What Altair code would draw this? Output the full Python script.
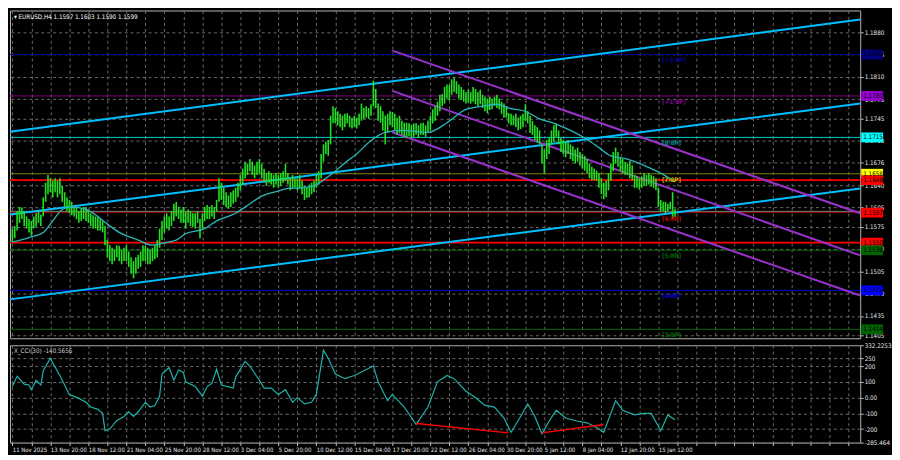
import altair as alt
import pandas as pd

# ---------------- data ----------------
# H4 bars, index 0 = 11 Nov 2025 00:00
high = [
    1.1572, 1.1576, 1.1599, 1.1606, 1.1605, 1.1599, 1.1591, 1.1587, 1.1584, 1.1591,
    1.1596, 1.1599, 1.1594, 1.1621, 1.1644, 1.1656, 1.1651, 1.1647, 1.1651, 1.1647,
    1.1651, 1.1639, 1.1629, 1.1621, 1.1617, 1.1614, 1.1606, 1.1606, 1.1599, 1.1603,
    1.1606, 1.1606, 1.1602, 1.1596, 1.1593, 1.1591, 1.1591, 1.1587, 1.1584, 1.1576,
    1.1554, 1.1546, 1.1542, 1.1539, 1.1546, 1.1545, 1.1539, 1.1542, 1.1546, 1.1536,
    1.1527, 1.1521, 1.1527, 1.1531, 1.1536, 1.1546, 1.1545, 1.1542, 1.1539, 1.1542,
    1.1546, 1.1554, 1.1572, 1.1584, 1.1591, 1.1596, 1.1591, 1.1599, 1.1611, 1.1614,
    1.1606, 1.1602, 1.1606, 1.1599, 1.1602, 1.1599, 1.1596, 1.1596, 1.1599, 1.1587,
    1.1596, 1.1606, 1.1609, 1.1606, 1.1609, 1.1606, 1.1617, 1.1651, 1.1644, 1.1636,
    1.1629, 1.1624, 1.1629, 1.1632, 1.1636, 1.1644, 1.1656, 1.1666, 1.1677, 1.1674,
    1.1681, 1.1677, 1.1671, 1.1677, 1.1681, 1.1674, 1.1666, 1.1659, 1.1662, 1.1659,
    1.1656, 1.1659, 1.1656, 1.1659, 1.1662, 1.1674, 1.1659, 1.1651, 1.1656, 1.1651,
    1.1651, 1.1656, 1.1647, 1.1639, 1.1636, 1.1641, 1.1644, 1.1647, 1.1656, 1.1662,
    1.1689, 1.1704, 1.1708, 1.1711, 1.1749, 1.1764, 1.1761, 1.1756, 1.1752, 1.1749,
    1.1752, 1.1753, 1.1749, 1.1746, 1.1749, 1.1746, 1.1752, 1.1768, 1.1761, 1.1764,
    1.1761, 1.1767, 1.1804, 1.1791, 1.1768, 1.1764, 1.1756, 1.1749, 1.1752, 1.1756,
    1.1755, 1.1752, 1.1746, 1.1749, 1.1741, 1.1738, 1.1738, 1.1737, 1.1734, 1.1737,
    1.1737, 1.1734, 1.1737, 1.1738, 1.1734, 1.1741, 1.1749, 1.1759, 1.1764, 1.1771,
    1.1782, 1.1783, 1.1794, 1.1798, 1.1797, 1.1806, 1.1809, 1.1803, 1.1798, 1.1794,
    1.1790, 1.1786, 1.1790, 1.1786, 1.1794, 1.1791, 1.1786, 1.1790, 1.1782, 1.1779,
    1.1776, 1.1779, 1.1776, 1.1779, 1.1782, 1.1776, 1.1771, 1.1768, 1.1764, 1.1753,
    1.1752, 1.1749, 1.1752, 1.1746, 1.1749, 1.1752, 1.1767, 1.1756, 1.1749, 1.1741,
    1.1734, 1.1731, 1.1726, 1.1704, 1.1696, 1.1711, 1.1714, 1.1726, 1.1734, 1.1737,
    1.1726, 1.1714, 1.1711, 1.1707, 1.1711, 1.1704, 1.1701, 1.1696, 1.1699, 1.1692,
    1.1689, 1.1686, 1.1681, 1.1674, 1.1669, 1.1666, 1.1663, 1.1659, 1.1651, 1.1644,
    1.1647, 1.1659, 1.1674, 1.1692, 1.1699, 1.1692, 1.1684, 1.1681, 1.1677, 1.1674,
    1.1678, 1.1671, 1.1656, 1.1654, 1.1651, 1.1654, 1.1659, 1.1656, 1.1659, 1.1656,
    1.1654, 1.1651, 1.1636, 1.1617, 1.1614, 1.1614, 1.1611, 1.1614, 1.1629, 1.1603,
]
low = [
    1.1551, 1.1557, 1.1569, 1.1581, 1.1587, 1.1576, 1.1572, 1.1566, 1.1561, 1.1572,
    1.1575, 1.1581, 1.1576, 1.1591, 1.1614, 1.1626, 1.1629, 1.1621, 1.1629, 1.1621,
    1.1626, 1.1614, 1.1606, 1.1599, 1.1596, 1.1593, 1.1591, 1.1587, 1.1581, 1.1584,
    1.1587, 1.1584, 1.1581, 1.1576, 1.1572, 1.1572, 1.1569, 1.1569, 1.1566, 1.1546,
    1.1527, 1.1521, 1.1516, 1.1521, 1.1527, 1.1521, 1.1516, 1.1521, 1.1521, 1.1512,
    1.1501, 1.1494, 1.1501, 1.1509, 1.1512, 1.1521, 1.1521, 1.1516, 1.1516, 1.1521,
    1.1524, 1.1527, 1.1542, 1.1554, 1.1566, 1.1572, 1.1569, 1.1576, 1.1584, 1.1591,
    1.1587, 1.1581, 1.1581, 1.1572, 1.1581, 1.1576, 1.1575, 1.1572, 1.1581, 1.1557,
    1.1572, 1.1584, 1.1587, 1.1587, 1.1591, 1.1587, 1.1599, 1.1614, 1.1617, 1.1609,
    1.1606, 1.1603, 1.1606, 1.1611, 1.1614, 1.1621, 1.1632, 1.1641, 1.1651, 1.1656,
    1.1662, 1.1656, 1.1651, 1.1656, 1.1659, 1.1651, 1.1644, 1.1639, 1.1644, 1.1641,
    1.1636, 1.1641, 1.1636, 1.1639, 1.1644, 1.1647, 1.1641, 1.1632, 1.1636, 1.1636,
    1.1632, 1.1635, 1.1626, 1.1617, 1.1620, 1.1621, 1.1626, 1.1629, 1.1636, 1.1641,
    1.1651, 1.1677, 1.1689, 1.1686, 1.1704, 1.1737, 1.1737, 1.1734, 1.1731, 1.1726,
    1.1731, 1.1737, 1.1731, 1.1729, 1.1731, 1.1729, 1.1734, 1.1741, 1.1744, 1.1746,
    1.1744, 1.1749, 1.1764, 1.1761, 1.1741, 1.1738, 1.1726, 1.1704, 1.1722, 1.1734,
    1.1731, 1.1726, 1.1719, 1.1722, 1.1719, 1.1716, 1.1714, 1.1717, 1.1714, 1.1716,
    1.1719, 1.1714, 1.1719, 1.1719, 1.1716, 1.1722, 1.1726, 1.1737, 1.1741, 1.1749,
    1.1756, 1.1764, 1.1768, 1.1776, 1.1773, 1.1782, 1.1786, 1.1783, 1.1776, 1.1774,
    1.1771, 1.1768, 1.1770, 1.1768, 1.1771, 1.1767, 1.1764, 1.1767, 1.1761, 1.1756,
    1.1753, 1.1758, 1.1759, 1.1764, 1.1761, 1.1759, 1.1752, 1.1746, 1.1746, 1.1737,
    1.1734, 1.1734, 1.1731, 1.1726, 1.1728, 1.1731, 1.1741, 1.1737, 1.1722, 1.1719,
    1.1711, 1.1707, 1.1704, 1.1674, 1.1659, 1.1681, 1.1689, 1.1704, 1.1708, 1.1716,
    1.1704, 1.1692, 1.1689, 1.1684, 1.1689, 1.1681, 1.1678, 1.1674, 1.1677, 1.1671,
    1.1666, 1.1663, 1.1659, 1.1651, 1.1648, 1.1648, 1.1647, 1.1636, 1.1626, 1.1618,
    1.1621, 1.1632, 1.1647, 1.1662, 1.1674, 1.1669, 1.1662, 1.1659, 1.1656, 1.1656,
    1.1651, 1.1648, 1.1636, 1.1636, 1.1633, 1.1636, 1.1639, 1.1639, 1.1641, 1.1638,
    1.1636, 1.1632, 1.1606, 1.1599, 1.1599, 1.1596, 1.1599, 1.1602, 1.1587, 1.1590,
]

# moving average (turquoise line)
ma_idx = [0, 7, 13, 17, 21, 25, 31, 36, 40, 45, 53, 59, 63, 69, 73, 81, 86, 94, 100, 105,
          111, 116, 122, 127, 131, 135, 141, 145, 150, 157, 164, 175, 183, 191, 198, 204,
          209, 216, 222, 228, 235, 241, 247, 252, 259, 266, 273, 279]
ma_val = [1.1551, 1.1558, 1.1566, 1.1584, 1.1602, 1.1606, 1.1602, 1.1591, 1.1579, 1.1566,
          1.1554, 1.1546, 1.1549, 1.1554, 1.1564, 1.1572, 1.1584, 1.1596, 1.1611, 1.1623,
          1.1630, 1.1635, 1.1636, 1.1639, 1.1648, 1.1659, 1.1678, 1.1689, 1.1707, 1.1723,
          1.1726, 1.1723, 1.1738, 1.1759, 1.1764, 1.1767, 1.1761, 1.1756, 1.1744, 1.1737,
          1.1726, 1.1714, 1.1699, 1.1686, 1.1681, 1.1671, 1.1659, 1.1645]

# CCI(30)
cci_idx = [0, 2, 5, 7, 8, 10, 12, 13, 16, 17, 20, 22, 24, 28, 31, 33, 36, 38, 39, 41,
           44, 47, 49, 51, 53, 56, 58, 60, 62, 63, 66, 68, 70, 72, 73, 77, 80, 82, 84, 86,
           88, 93, 94, 98, 100, 104, 106, 109, 112, 115, 118, 120, 123, 126, 128, 131, 133,
           136, 140, 144, 148, 152, 154, 158, 160, 165, 170, 175, 179, 183, 186, 191, 195,
           199, 203, 207, 210, 214, 217, 220, 223, 226, 229, 233, 238, 242, 246, 249, 252,
           254, 257, 262, 266, 269, 273, 276, 279]
cci_val = [70, 135, 85, 80, 50, 110, 80, 170, 250, 220, 140, 80, 20, -5, -30, -60, -75, -100, -210, -200,
           -145, -120, -90, -120, -90, -30, -60, -50, 10, 150, 190, 110, 175, 160, 100, 70, 10, 70, 90, 180,
           80, 60, 130, 230, 200, 110, 60, 60, 20, 50, -30, 0, -40, -30, 20, 300, 250,
           150, 120, 140, 170, 200, 100, -20, 20, -60, -170, -60, 100, 140, 120, 40, 0,
           -50, -60, -130, -220, -120, -40, -120, -230, -150, -80, -130, -150, -160, -190, -220, -100,
           -20, -80, -110, -100, -100, -210, -110, -140.5656]

# divergence segments on CCI
div_id = ["a", "a", "b", "b"]
div_idx = [170, 209, 223, 249]
div_val = [-165, -224, -224, -171]

# trend channels: (id, colour, idx, price)
chan_id = ["c1", "c1", "c2", "c2", "c3", "c3", "p1", "p1", "p2", "p2", "p3", "p3"]
chan_color = ["#00BFFF"] * 6 + ["#9932CC"] * 6
chan_idx = [-1, 357, -1, 357, -1, 357, 160, 357, 160, 357, 160, 357]
chan_price = [1.1724, 1.1900, 1.1594, 1.1768, 1.1461, 1.1635,
              1.1851, 1.1596, 1.1788, 1.1530, 1.1723, 1.1467]

# horizontal levels
lvl_price = [1.1845, 1.1780, 1.1715, 1.1658, 1.1597, 1.1538, 1.1475, 1.1414]
lvl_color = ["#000090", "#800080", "#00CED1", "#808000", "#9a0000", "#006400", "#0000CD", "#006400"]
lvl_tag = ["[+2/8P]", "[+1/8P]", "[8/8P]", "[7/8P]", "[6/8P]", "[5/8P]", "[4/8P]", "[3/8P]"]
lvl_tag_color = ["#000090", "#800080", "#008B8B", "#B8B800", "#C00000", "#006400", "#0000CD", "#006400"]
sr_price = [1.1648, 1.1550]
bid_price = [1.1599]

# right-hand price boxes
box_price = [1.1845, 1.1780, 1.1715, 1.1658, 1.1648, 1.1597, 1.1550, 1.1538, 1.1475, 1.1414]
box_fill = ["#000080", "#9400D3", "#00FFFF", "#FFFF00", "#FF0000", "#FF0000", "#FF0000", "#006400", "#0000FF", "#006400"]
box_text = ["#000000"] * 10

price_ticks = [1.1880, 1.1845, 1.1810, 1.1775, 1.1745, 1.1710, 1.1676, 1.1640, 1.1605,
               1.1575, 1.1540, 1.1505, 1.1470, 1.1435, 1.1405]
cci_ticks = [332.2253, 250, 200, 100, 0, -100, -200, -285.464]
time_labels = ["11 Nov 2025", "13 Nov 20:00", "18 Nov 12:00", "21 Nov 04:00", "25 Nov 20:00",
               "28 Nov 12:00", "3 Dec 04:00", "5 Dec 20:00", "10 Dec 12:00", "15 Dec 04:00",
               "17 Dec 20:00", "22 Dec 12:00", "26 Dec 04:00", "30 Dec 20:00", "5 Jan 12:00",
               "8 Jan 04:00", "12 Jan 20:00", "15 Jan 12:00"]
title_text = "\u25be EURUSD,H4  1.1597 1.1603 1.1590 1.1599"
cci_title = "X_CCI(30) -140.5656"

# ---------------- layout / style ----------------
W = 856
H_MAIN = 330
H_CCI = 98
FS = 6.3
FSX = 6
FONT = "Liberation Sans Narrow, DejaVu Sans Condensed, Liberation Sans, sans-serif"
GRID = "#6a6a6a"
LABEL = "#e6e6e6"

bars = pd.DataFrame({"idx": list(range(len(high))), "price": low, "price2": high})
ma = pd.DataFrame({"idx": ma_idx, "price": ma_val})
chan = pd.DataFrame({"id": chan_id, "color": chan_color, "idx": chan_idx, "price": chan_price})
lv = pd.DataFrame({"price": lvl_price, "color": lvl_color, "tag": lvl_tag, "tcolor": lvl_tag_color,
                   "idx": [273.5] * len(lvl_price)})
sr = pd.DataFrame({"price": sr_price})
bid = pd.DataFrame({"price": bid_price})
boxes = pd.DataFrame({"price": box_price, "fill": box_fill, "tc": box_text,
                      "label": [f"{p:.4f}" for p in box_price]})
cci = pd.DataFrame({"idx": cci_idx, "v": cci_val})
div = pd.DataFrame({"id": div_id, "idx": div_idx, "v": div_val})

grid_vals = list(range(0, 357, 8))
xscale = alt.Scale(domain=[-1, 357], nice=False, zero=False)
x_main_axis = alt.Axis(values=grid_vals, labels=False, ticks=False, domain=False, grid=True,
                       gridColor=GRID, gridDash=[3, 3], title=None, zindex=0)
lbl_array = "[" + ",".join(f"'{t}'" for t in time_labels) + "]"
x_cci_axis = alt.Axis(values=grid_vals, grid=True, gridColor=GRID, gridDash=[3, 3], title=None,
                      domain=False, tickColor="#c0c0c0", tickSize=3, labelAlign="left",
                      labelPadding=1, labelFontSize=FSX, labelColor=LABEL, labelFont=FONT,
                      labelOverlap=False, labelFlush=False, zindex=0,
                      labelExpr=f"datum.value % 16 == 0 ? {lbl_array}[datum.value / 16] : ''")
yscale = alt.Scale(domain=[1.1400, 1.1914], nice=False, zero=False)
y_axis = alt.Axis(orient="right", values=price_ticks, format=".4f", grid=True, gridColor=GRID,
                  gridDash=[3, 3], domain=False, tickColor="#c0c0c0", tickSize=3, labelPadding=1,
                  labelFontSize=FS, labelColor=LABEL, labelFont=FONT, labelOverlap=False,
                  labelFlush=False, title=None, zindex=0)

X = alt.X("idx:Q", scale=xscale, axis=x_main_axis)
Y = alt.Y("price:Q", scale=yscale, axis=y_axis)

level_lines = alt.Chart(lv).mark_rule(strokeWidth=1).encode(
    y=Y, color=alt.Color("color:N", scale=None))
sr_lines = alt.Chart(sr).mark_rule(strokeWidth=2, color="#FF0000").encode(y=Y)
bid_line = alt.Chart(bid).mark_rule(strokeWidth=1, color="#808080").encode(y=Y)
channels = alt.Chart(chan).mark_line(strokeWidth=2, clip=True).encode(
    x=X, y=Y, detail="id:N", color=alt.Color("color:N", scale=None))
bar_marks = alt.Chart(bars).mark_rule(strokeWidth=1.6, color="#22e022").encode(
    x=X, y=Y, y2="price2:Q")
ma_line = alt.Chart(ma).mark_line(strokeWidth=1.3, color="#2ab7b7", interpolate="monotone").encode(x=X, y=Y)
tags = alt.Chart(lv).mark_text(align="left", baseline="middle", dy=6, fontSize=FS,
                               fontWeight="bold", font=FONT).encode(
    x=X, y=Y, text="tag:N", color=alt.Color("tcolor:N", scale=None))
box_rects = alt.Chart(boxes).mark_point(
    shape="M-1,-0.45H1V0.45H-1Z", filled=True, size=22 * 22, opacity=1, strokeWidth=0).encode(
    x=alt.value(W + 12), y=Y, color=alt.Color("fill:N", scale=None))
box_labels = alt.Chart(boxes).mark_text(align="left", baseline="middle", fontSize=FS, font=FONT).encode(
    x=alt.value(W + 3), y=Y, text="label:N", color=alt.Color("tc:N", scale=None))
title = alt.Chart(pd.DataFrame({"t": [title_text]})).mark_text(
    align="left", baseline="middle", fontSize=FS, color="#ffffff", font=FONT).encode(
    x=alt.value(4), y=alt.value(7), text="t:N")

main = alt.layer(level_lines, sr_lines, bid_line, channels, bar_marks, ma_line, tags,
                 box_rects, box_labels, title).properties(width=W, height=H_MAIN)

cci_scale = alt.Scale(domain=[-285.464, 332.2253], nice=False, zero=False)
cci_axis = alt.Axis(orient="right", values=cci_ticks, grid=True, gridColor=GRID, gridDash=[3, 3],
                    domain=False, tickColor="#c0c0c0", tickSize=3, labelPadding=1, labelFontSize=FS,
                    labelColor=LABEL, labelFont=FONT, labelOverlap=False, labelFlush=False, title=None,
                    zindex=0, labelExpr="datum.value == 0 ? '0.00' : toString(datum.value)")
XC = alt.X("idx:Q", scale=xscale, axis=x_cci_axis)
YC = alt.Y("v:Q", scale=cci_scale, axis=cci_axis)
cci_line = alt.Chart(cci).mark_line(strokeWidth=1.2, color="#20B2AA").encode(x=XC, y=YC)
div_lines = alt.Chart(div).mark_line(strokeWidth=1.5, color="#FF0000").encode(x=XC, y=YC, detail="id:N")
cci_lbl = alt.Chart(pd.DataFrame({"t": [cci_title]})).mark_text(
    align="left", baseline="middle", fontSize=FS, color="#d0d0d0", font=FONT).encode(
    x=alt.value(4), y=alt.value(6), text="t:N")
cci_panel = alt.layer(cci_line, div_lines, cci_lbl).properties(width=W, height=H_CCI)

chart = alt.vconcat(main, cci_panel, spacing=2).properties(
    padding={"left": 0, "top": 0, "right": 0, "bottom": 0},
    background="#000000",
).configure_view(stroke="#b4b4b4", strokeWidth=1)

chart.save("out.html", embed_options={"renderer": "svg", "actions": False})
